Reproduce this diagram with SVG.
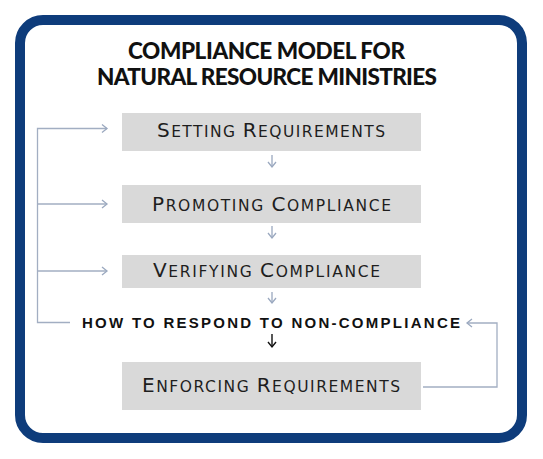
<svg xmlns="http://www.w3.org/2000/svg" width="543" height="459" viewBox="0 0 543 459">
<style>
.frame{fill:#ffffff;stroke:#0e3c7b;stroke-width:10}
.box{fill:#d9d9d9}
.lbl{font-family:"DejaVu Sans","Liberation Sans",Arial,sans-serif;fill:#1e1e1e}
.big{font-size:20px}
.sm{font-size:15.5px}
.title{font-family:"Lato","Liberation Sans",Arial,sans-serif;font-weight:900;font-size:22.5px;fill:#111}
.q{font-family:"Liberation Sans",Arial,sans-serif;font-weight:bold;font-size:15px;fill:#111}
.ln{fill:none;stroke:#a2aec2;stroke-width:1.3}
.dn{fill:none;stroke:#9aa8bf;stroke-width:1.3}
</style>
<defs>
<marker id="ah" markerUnits="userSpaceOnUse" markerWidth="10" markerHeight="12" refX="6" refY="5" orient="auto" viewBox="0 0 10 10">
<path d="M1,1 L6,5 L1,9" fill="none" stroke="#9aa8bf" stroke-width="1.3"/>
</marker>
<marker id="ahk" markerUnits="userSpaceOnUse" markerWidth="10" markerHeight="12" refX="6" refY="5" orient="auto" viewBox="0 0 10 10">
<path d="M1,1 L6,5 L1,9" fill="none" stroke="#111" stroke-width="1.4"/>
</marker>
</defs>
<rect class="frame" x="20" y="20" width="502" height="418" rx="23"/>
<g id="title">
<text class="title" x="128" y="59" textLength="277" lengthAdjust="spacing">COMPLIANCE MODEL FOR</text>
<text class="title" x="97" y="85" textLength="340" lengthAdjust="spacing">NATURAL RESOURCE MINISTRIES</text>
</g>
<g id="connectors">
<path class="ln" d="M70,322.5 H37.5 V128.5 H107" marker-end="url(#ah)"/>
<path class="ln" d="M37.5,204 H107" marker-end="url(#ah)"/>
<path class="ln" d="M37.5,271 H107" marker-end="url(#ah)"/>
<path class="ln" d="M423,387 H497 V323 H467" marker-end="url(#ah)"/>
<path class="dn" d="M272,155 V167" marker-end="url(#ah)"/>
<path class="dn" d="M272,226 V238" marker-end="url(#ah)"/>
<path class="dn" d="M272,292 V303" marker-end="url(#ah)"/>
<path d="M272,334 V347" fill="none" stroke="#111" stroke-width="1.4" marker-end="url(#ahk)"/>
</g>
<g id="setting">
<rect class="box" x="122" y="113" width="299" height="38"/>
<text class="lbl" x="157" y="137" textLength="228" lengthAdjust="spacing"><tspan class="big">S</tspan><tspan class="sm">ETTING </tspan><tspan class="big">R</tspan><tspan class="sm">EQUIREMENTS</tspan></text>
</g>
<g id="promoting">
<rect class="box" x="122" y="185" width="299" height="38"/>
<text class="lbl" x="152" y="211" textLength="239" lengthAdjust="spacing"><tspan class="big">P</tspan><tspan class="sm">ROMOTING </tspan><tspan class="big">C</tspan><tspan class="sm">OMPLIANCE</tspan></text>
</g>
<g id="verifying">
<rect class="box" x="122" y="255" width="299" height="33"/>
<text class="lbl" x="153" y="277" textLength="227" lengthAdjust="spacing"><tspan class="big">V</tspan><tspan class="sm">ERIFYING </tspan><tspan class="big">C</tspan><tspan class="sm">OMPLIANCE</tspan></text>
</g>
<g id="respond">
<text class="q" x="82" y="328" textLength="378" lengthAdjust="spacing">HOW TO RESPOND TO NON-COMPLIANCE</text>
</g>
<g id="enforcing">
<rect class="box" x="122" y="362" width="299" height="48"/>
<text class="lbl" x="142" y="392" textLength="258" lengthAdjust="spacing"><tspan class="big">E</tspan><tspan class="sm">NFORCING </tspan><tspan class="big">R</tspan><tspan class="sm">EQUIREMENTS</tspan></text>
</g>
</svg>
